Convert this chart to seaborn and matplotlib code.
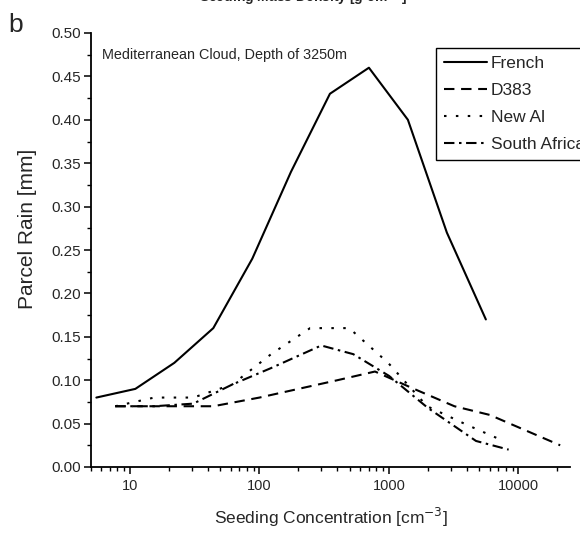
import matplotlib
matplotlib.use("Agg")
import matplotlib.pyplot as plt
import matplotlib.ticker as mticker
import seaborn as sns
import pandas as pd

# ---- data ----
french_x = [5.5, 11, 22, 44, 88, 175, 350, 700, 1400, 2800, 5600]
french_y = [0.08, 0.09, 0.12, 0.16, 0.24, 0.34, 0.43, 0.46, 0.40, 0.27, 0.17]

d383_x = [7.7, 15, 22, 44, 100, 200, 400, 780, 1560, 3200, 6000, 21000]
d383_y = [0.07, 0.07, 0.07, 0.07, 0.08, 0.09, 0.10, 0.11, 0.09, 0.07, 0.06, 0.025]

newal_x = [7.7, 15.4, 30.8, 61.6, 123, 246, 493, 985, 1970, 3940, 6900]
newal_y = [0.07, 0.08, 0.08, 0.095, 0.13, 0.16, 0.16, 0.12, 0.07, 0.049, 0.033]

safr_x = [7.7, 15.4, 30.8, 61.6, 123, 300, 530, 1000, 2000, 4700, 8400]
safr_y = [0.07, 0.07, 0.073, 0.095, 0.114, 0.14, 0.13, 0.105, 0.068, 0.03, 0.02]

series_names = ["French", "D383", "New Al", "South Africa"]
x_ticks = [10, 100, 1000, 10000]
x_tick_labels = ["10", "100", "1000", "10000"]
y_ticks = [0.00, 0.05, 0.10, 0.15, 0.20, 0.25, 0.30, 0.35, 0.40, 0.45, 0.50]

frames = []
for name, xs, ys in zip(series_names,
                        [french_x, d383_x, newal_x, safr_x],
                        [french_y, d383_y, newal_y, safr_y]):
    frames.append(pd.DataFrame({"conc": xs, "rain": ys, "series": name}))
df = pd.concat(frames, ignore_index=True)

sns.set_style("ticks")
plt.rcParams["font.family"] = ["Liberation Sans", "DejaVu Sans"]

fig = plt.figure(figsize=(5.8, 5.34), dpi=100)
ax = fig.add_axes([91 / 580, 1 - 467 / 534, (570 - 91) / 580, (467 - 33) / 534])

dash_styles = {
    "French": "",
    "D383": (5, 3.2),
    "New Al": (1.2, 4.5),
    "South Africa": (5, 2.2, 1.2, 2.2),
}
palette = {n: "black" for n in series_names}

sns.lineplot(data=df, x="conc", y="rain", hue="series", style="series",
             hue_order=series_names, style_order=series_names,
             palette=palette, dashes=dash_styles, sort=False,
             estimator=None, linewidth=1.5, ax=ax)

ax.set_xscale("log")
ax.set_xlim(5, 25000)
ax.set_ylim(0, 0.5)
ax.set_xticks(x_ticks)
ax.set_xticklabels(x_tick_labels)
ax.xaxis.set_minor_locator(mticker.LogLocator(base=10, subs=range(2, 10), numticks=20))
ax.xaxis.set_minor_formatter(mticker.NullFormatter())
ax.set_yticks(y_ticks)
ax.yaxis.set_major_formatter(mticker.FormatStrFormatter("%.2f"))
ax.yaxis.set_minor_locator(mticker.MultipleLocator(0.025))

ax.tick_params(which="major", direction="out", length=5, width=1.1, color="black")
ax.tick_params(axis="x", which="major", labelsize=10.5, pad=4)
ax.tick_params(axis="y", which="major", labelsize=11, pad=2)
ax.tick_params(which="minor", direction="out", length=3, width=1.0, color="black")

for s in ["top", "right"]:
    ax.spines[s].set_visible(False)
for s in ["left", "bottom"]:
    ax.spines[s].set_linewidth(1.3)
    ax.spines[s].set_color("black")

ax.set_xlabel("Seeding Concentration [cm$^{-3}$]", fontsize=12.5, labelpad=9)
ax.set_ylabel("Parcel Rain [mm]", fontsize=15)
ax.yaxis.set_label_coords((37 - 91) / 479, (467 - 229) / 434)

ax.text(0.024, 0.95, "Mediterranean Cloud, Depth of 3250m", transform=ax.transAxes,
        fontsize=10.4, ha="left", va="center")

leg = ax.legend(loc="upper left", bbox_to_anchor=((436 - 91) / 479, 1 - (48 - 33) / 434),
                borderaxespad=0, frameon=True, fancybox=False, fontsize=12.5,
                handlelength=2.5, handletextpad=0.2, borderpad=0.45,
                labelspacing=0.68, title=None)
leg.get_frame().set_edgecolor("black")
leg.get_frame().set_linewidth(1.0)
leg.get_frame().set_alpha(1)

fig.text(16 / 580, 1 - 25 / 534, "b", fontsize=19, ha="center", va="center")
fig.text(303 / 580, 1 + 3 / 534, "Seeding Mass Density [g cm$^{-3}$]", fontsize=10,
         fontweight="bold", ha="center", va="center")

fig.savefig("out.png", dpi=100)
